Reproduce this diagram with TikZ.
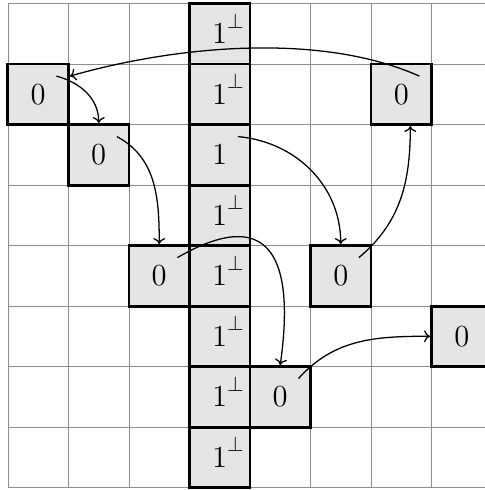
\documentclass[tikz,border=0pt]{standalone}
\usepackage{amsmath,amssymb,xcolor,tikz}
\usetikzlibrary{arrows.meta}
\definecolor{boxc}{gray}{0.9}
\definecolor{gridc}{gray}{0.55}
\tikzset{
  cell/.style={rectangle, draw=black, fill=boxc, line width=1.4pt, minimum size=1cm,
    inner sep=0pt, font=\Large, text height=9.6pt, text depth=0.3pt},
  hop/.style={-{To[length=2.8pt, width=5.6pt]}, semithick},
  lat/.style={gridc, thin},
}
\newcommand{\Cpos}[2]{({#1+0.5}, {7.5-#2})}
\newcommand{\Corner}[1]{([shift={(0.3,0.3)}]#1.center)}
\newcommand{\Perp}{\rlap{\raisebox{2pt}{$^\perp$}}}
\begin{document}
\begin{tikzpicture}
  \useasboundingbox (-0.132,-0.041) rectangle (7.868,8.058);
  \draw[lat] (0,0) grid (8,8);
  % middle column: 1 with perp marks, plain 1 in row 2
  \foreach \r in {0,1,3,4,5,6,7}
    \node[cell] (m\r) at \Cpos{3}{\r} {$1$\Perp};
  \node[cell] (m2) at \Cpos{3}{2} {$1$};
  % zero cells (column/row)
  \foreach \c/\r in {0/1,1/2,6/1,2/4,5/4,7/5,4/6}
    \node[cell] (z\c\r) at \Cpos{\c}{\r} {$0$};
  % hops
  \draw[hop] \Corner{z61} to[out=156, in=16, looseness=0.8] ([yshift=0.3cm]z01.east);
  \draw[hop] \Corner{z01} to[out=-15, in=90] (z12.north);
  \draw[hop] \Corner{z12} to[out=-28, in=90] (z24.north);
  \draw[hop] \Corner{m2} to[out=-5, in=90] (z54.north);
  \draw[hop] \Corner{z54} to[out=40, in=-90] ([xshift=0.15cm]z61.south);
  \draw[hop] \Corner{z24} to[out=30, in=82, looseness=1.85] (z46.north);
  \draw[hop] \Corner{z46} to[out=48, in=180] (z75.west);
\end{tikzpicture}
\end{document}
